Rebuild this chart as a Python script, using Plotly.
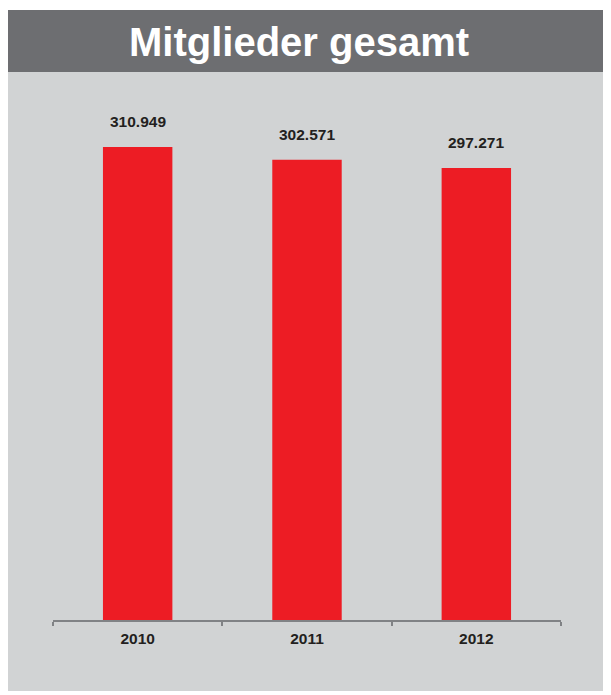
import plotly.graph_objects as go

years = ["2010", "2011", "2012"]
members = [310949, 302571, 297271]
labels = ["310.949", "302.571", "297.271"]
title_text = "Mitglieder gesamt"

OFF = 8  # page body margin
W, H = 611, 695
L, R, T, B = 53 - OFF, 611 - (561 - OFF), 100 - OFF, 695 - (620 - OFF)
pw, ph = W - L - R, H - T - B

def px_x(x):
    return (x - OFF - L) / pw

def px_y(y):
    return (H - B - (y - OFF)) / ph

RED = "#ed1c24"
BAND = "#6d6e71"
BG = "#d1d3d4"
TXT = "#231f20"
FONT = "Liberation Sans, Arial, Helvetica, sans-serif"

fig = go.Figure()
fig.add_trace(go.Bar(x=years, y=members, marker=dict(color=RED, line=dict(width=0)),
                     hoverinfo="skip"))

for i, (v, lab) in enumerate(zip(members, labels)):
    fig.add_annotation(x=i, y=v, text="<b>%s</b>" % lab, showarrow=False,
                       yanchor="bottom", yshift=15,
                       font=dict(family=FONT, size=15.5, color=TXT))

shapes = [
    dict(type="rect", xref="paper", yref="paper", layer="below",
         x0=px_x(5), x1=px_x(640), y0=px_y(691), y1=px_y(72),
         fillcolor=BG, line=dict(width=0)),
    dict(type="rect", xref="paper", yref="paper", layer="below",
         x0=px_x(5), x1=px_x(640), y0=px_y(72), y1=px_y(10),
         fillcolor=BAND, line=dict(width=0)),
]

fig.add_annotation(xref="paper", yref="paper", x=px_x(299), y=px_y(42),
                   text="<b>%s</b>" % title_text, showarrow=False,
                   xanchor="center", yanchor="middle",
                   font=dict(family=FONT, size=40, color="white"))

fig.update_layout(
    width=W, height=H,
    margin=dict(l=L, r=R, t=T, b=B, pad=0),
    paper_bgcolor="white", plot_bgcolor="rgba(0,0,0,0)",
    shapes=shapes, bargap=0.59, showlegend=False,
    xaxis=dict(type="category", range=[-0.5, len(years) - 0.5],
               showline=True, linecolor="#808285", linewidth=1.5,
               ticks="outside", tickson="boundaries", ticklen=4,
               tickcolor="#808285", tickwidth=1.5,
               ticklabelstandoff=4,
               tickfont=dict(family=FONT, size=15.5, color=TXT),
               tickprefix="<b>", ticksuffix="</b>",
               showgrid=False, zeroline=False, fixedrange=True),
    yaxis=dict(range=[0, 341900], visible=False, showgrid=False,
               zeroline=False, fixedrange=True),
)

fig.write_html("out.html")
